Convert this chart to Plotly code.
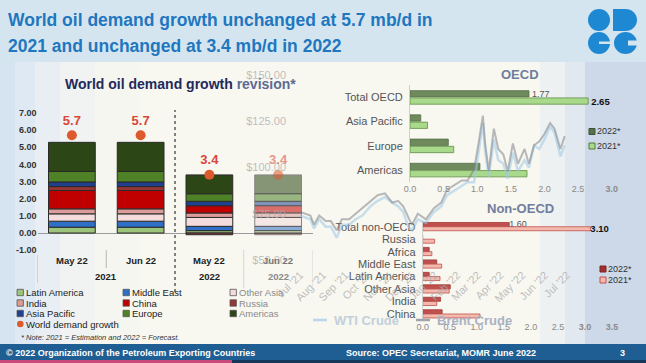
import numpy as np
import plotly.graph_objects as go

W, H = 646, 363
def fx(x): return x / W
def fy(y): return 1 - y / H

FONT = "Liberation Sans, Arial, sans-serif"

# ---------------- data ----------------
periods = ["May 22", "Jun 22", "May 22", "Jun 22"]
years = ["2021", "2021", "2022", "2022"]
regions = ["Latin America", "Middle East", "Other Asia", "India", "China",
           "Russia", "Asia Pacific", "Europe", "Americas"]
latin_america = [0.34, 0.34, 0.14, 0.14]
middle_east = [0.35, 0.35, 0.25, 0.25]
other_asia = [0.43, 0.43, 0.52, 0.52]
india = [0.29, 0.29, 0.26, 0.26]
china = [1.07, 1.07, 0.42, 0.42]
russia = [0.23, 0.23, -0.10, -0.10]
asia_pacific = [0.27, 0.27, 0.26, 0.26]
europe = [0.61, 0.61, 0.44, 0.44]
americas = [1.70, 1.70, 1.10, 1.10]
world_growth = [5.7, 5.7, 3.4, 3.4]

oecd_regions = ["Total OECD", "Asia Pacific", "Europe", "Americas"]
oecd_2022 = [1.77, 0.16, 0.57, 1.04]
oecd_2021 = [2.65, 0.26, 0.65, 1.74]

non_oecd_regions = ["Total non-OECD", "Russia", "Africa", "Middle East",
                    "Latin America", "Other Asia", "India", "China"]
non_oecd_2022 = [1.60, -0.10, 0.12, 0.26, 0.12, 0.51, 0.33, 0.36]
non_oecd_2021 = [3.10, 0.22, 0.17, 0.35, 0.32, 0.49, 0.26, 1.06]

price_dates = ["2021-07-01", "2021-07-08", "2021-07-15", "2021-07-20", "2021-07-27",
               "2021-08-05", "2021-08-12", "2021-08-20", "2021-08-27", "2021-09-06",
               "2021-09-15", "2021-09-24", "2021-10-05", "2021-10-15", "2021-10-25",
               "2021-11-04", "2021-11-12", "2021-11-19", "2021-11-26", "2021-12-01",
               "2021-12-09", "2021-12-20", "2021-12-31", "2022-01-10", "2022-01-18",
               "2022-01-26", "2022-02-07", "2022-02-15", "2022-02-24", "2022-03-02",
               "2022-03-08", "2022-03-11", "2022-03-16", "2022-03-23", "2022-03-29",
               "2022-04-05", "2022-04-11", "2022-04-18", "2022-04-25", "2022-05-04",
               "2022-05-10", "2022-05-17", "2022-05-24", "2022-05-31", "2022-06-08",
               "2022-06-14", "2022-06-22", "2022-06-28"]
brent = [76, 75, 74, 69, 74, 71, 71, 66, 72, 72, 75, 78, 82, 85, 86, 81, 82, 79, 73, 69,
         75, 72, 78, 81, 88, 90, 93, 93, 99, 113, 128, 113, 98, 121, 110, 107, 98, 113,
         102, 110, 102, 112, 114, 118, 124, 121, 110, 117]
wti = [74, 73, 72, 67, 72, 68, 68, 62, 69, 69, 72, 74, 79, 82, 84, 81, 79, 76, 68, 66,
       72, 70, 76, 79, 85, 87, 90, 92, 92, 108, 124, 109, 95, 115, 104, 102, 94, 108,
       98, 104, 100, 112, 110, 115, 122, 119, 106, 112]
price_ticks = ["2021-07-01", "2021-08-01", "2021-09-01", "2021-10-01", "2021-11-01",
               "2021-12-01", "2022-01-01", "2022-02-01", "2022-03-01", "2022-04-01",
               "2022-05-01", "2022-06-01", "2022-07-01"]
price_tick_labels = ["Jul '21", "Aug '21", "Sep '21", "Oct '21", "Nov '21", "Dec '21",
                     "Jan '22", "Feb '22", "Mar '22", "Apr '22", "May '22", "Jun '22", "Jul '22"]
price_levels = [50, 75, 100, 125, 150]

# ---------------- styles ----------------
region_colors = ["#9cc47a", "#2f6fc6", "#f3dcdb", "#dc9c9a", "#c00000",
                 "#943634", "#1f3f8f", "#4f8226", "#2c4616"]
bar_opac = [1, 1, 1, 0.55]

fig = go.Figure()

cats = [f"{p} {y}" for p, y in zip(periods, years)]
series = [latin_america, middle_east, other_asia, india, china, russia,
          asia_pacific, europe, americas]
pos = np.zeros(len(cats))
neg = np.zeros(len(cats))
for name, vals, col in zip(regions, series, region_colors):
    v = np.array(vals, dtype=float)
    base = np.where(v >= 0, pos, neg)
    fig.add_trace(go.Bar(x=cats, y=v, base=base, name=name, width=0.68, offset=-0.34,
                         marker=dict(color=col, opacity=bar_opac,
                                     line=dict(color="#2a2a2a", width=1)),
                         xaxis="x", yaxis="y", hoverinfo="skip"))
    pos += np.where(v >= 0, v, 0)
    neg += np.where(v < 0, v, 0)

fig.add_trace(go.Scatter(x=cats, y=world_growth, mode="markers+text",
                         text=[f"{v:.1f}" for v in world_growth],
                         textposition="top center",
                         textfont=dict(family=FONT, size=13, weight="bold",
                                       color=["#d9463a", "#d9463a", "#d9463a", "#e49888"]),
                         marker=dict(size=10, color="#dd5a2e", opacity=bar_opac),
                         xaxis="x", yaxis="y", hoverinfo="skip"))

# OECD
fig.add_trace(go.Bar(y=oecd_regions, x=oecd_2022, orientation="h", width=0.26, offset=-0.28,
                     marker=dict(color="#6f8a5c", line=dict(color="#55704a", width=0.8)),
                     text=[f"{oecd_2022[0]:.2f}"] + [""] * (len(oecd_2022) - 1),
                     textposition="outside", cliponaxis=False, constraintext="none",
                     textfont=dict(family=FONT, size=9, color="#555"),
                     xaxis="x2", yaxis="y2", hoverinfo="skip"))
fig.add_trace(go.Bar(y=oecd_regions, x=oecd_2021, orientation="h", width=0.26, offset=0.02,
                     marker=dict(color="#a9d98a", line=dict(color="#5f8f45", width=0.8)),
                     text=[f"{oecd_2021[0]:.2f}"] + [""] * (len(oecd_2021) - 1),
                     textposition="outside", cliponaxis=False, constraintext="none",
                     textfont=dict(family=FONT, size=9.5, weight="bold", color="#111"),
                     xaxis="x2", yaxis="y2", hoverinfo="skip"))

# Non-OECD
fig.add_trace(go.Bar(y=non_oecd_regions, x=non_oecd_2022, orientation="h", width=0.32, offset=-0.34,
                     marker=dict(color="#c0504d", line=dict(color="#a03a38", width=0.8)),
                     text=[f"{non_oecd_2022[0]:.2f}"] + [""] * (len(non_oecd_2022) - 1),
                     textposition="outside", cliponaxis=False, constraintext="none",
                     textfont=dict(family=FONT, size=9, color="#555"),
                     xaxis="x3", yaxis="y3", hoverinfo="skip"))
fig.add_trace(go.Bar(y=non_oecd_regions, x=non_oecd_2021, orientation="h", width=0.32, offset=0.0,
                     marker=dict(color="#f4b9ad", line=dict(color="#c0504d", width=0.8)),
                     text=[f"{non_oecd_2021[0]:.2f}"] + [""] * (len(non_oecd_2021) - 1),
                     textposition="outside", cliponaxis=False, constraintext="none",
                     textfont=dict(family=FONT, size=9.5, weight="bold", color="#111"),
                     xaxis="x3", yaxis="y3", hoverinfo="skip"))

# Ghost price chart
fig.add_trace(go.Scatter(x=price_dates, y=wti, mode="lines", name="WTI Crude",
                         line=dict(color="#9cc8e8", width=2.5), opacity=0.55,
                         xaxis="x4", yaxis="y4", hoverinfo="skip"))
fig.add_trace(go.Scatter(x=price_dates, y=brent, mode="lines", name="Brent Crude",
                         line=dict(color="#7f8388", width=2), opacity=0.55,
                         xaxis="x4", yaxis="y4", hoverinfo="skip"))

# ---------------- shapes (background / decoration) ----------------
shapes = []
def rect(x0, y0, x1, y1, color, layer="below", line=None):
    shapes.append(dict(type="rect", xref="paper", yref="paper",
                       x0=fx(x0), x1=fx(x1), y0=fy(y1), y1=fy(y0),
                       fillcolor=color, line=dict(width=0) if line is None else line,
                       layer=layer))

strips = [(0, 15, "#d6e4f1"), (15, 35, "#dfe9f3"), (35, 60, "#e8eef3"), (60, 95, "#f0f3f1"),
          (95, 140, "#f6f6f0"), (140, 540, "#f8f7f0"), (540, 565, "#eef1f2"),
          (565, 585, "#e1e8f0"), (585, 646, "#cdd9e8")]
for x0, x1, c in strips:
    rect(x0, 62, x1, 345, c)
rect(0, 0, 646, 62, "#d5e5ef")
rect(0, 344, 646, 363, "#1f5e93")
rect(0, 360, 232, 363, "#c94a7a")
rect(232, 360, 646, 363, "#16365a")

logo = "#1e88d2"
def circ(x0, y0, x1, y1, c):
    shapes.append(dict(type="circle", xref="paper", yref="paper",
                       x0=fx(x0), x1=fx(x1), y0=fy(y1), y1=fy(y0),
                       fillcolor=c, line=dict(width=0), layer="above"))
circ(588, 9, 610, 31, logo)
circ(614, 9, 637, 31, logo)
rect(613, 9, 625, 31, logo, layer="above")
circ(588, 32, 610, 54, logo)
rect(599, 41.5, 611, 44, "#d5e5ef", layer="above")
circ(614, 32, 637, 54, logo)
rect(628, 40.5, 638, 45.5, "#d5e5ef", layer="above")

def xline(xv, y0, y1, color, dash="solid", width=1):
    shapes.append(dict(type="line", xref="x", yref="paper", x0=xv, x1=xv,
                       y0=fy(y1), y1=fy(y0), line=dict(color=color, width=width, dash=dash),
                       layer="above"))
xline(-0.5, 255, 283, "#b5b5b5")
xline(0.5, 250, 268, "#b5b5b5")
xline(1.5, 110, 292, "#333333", dash="dot", width=1.2)
xline(2.5, 250, 288, "#d5d5d5")
xline(3.5, 250, 290, "#d5d5d5")

# ---------------- annotations ----------------
ann = []
def text(x, y, s, size=10, color="#222", bold=False, italic=False, xanchor="left",
         yanchor="middle", xref="paper", yref="paper"):
    t = f"<i>{s}</i>" if italic else s
    ann.append(dict(x=x if xref != "paper" else fx(x), y=y if yref != "paper" else fy(y),
                    xref=xref, yref=yref, text=t, showarrow=False,
                    xanchor=xanchor, yanchor=yanchor, borderpad=0,
                    font=dict(family=FONT, size=size, color=color,
                              weight="bold" if bold else "normal")))

text(7, 20, "World oil demand growth unchanged at 5.7 mb/d in", 17.5, "#1f77bf", True)
text(7, 46, "2021 and unchanged at 3.4 mb/d in 2022", 17.5, "#1f77bf", True)

text(64, 84, "World oil demand growth <span style='color:#5d6b93'>revision*</span>",
     14, "#1f2a5a", True)

for i, p in enumerate(periods):
    text(i, 260, p, 9.5, "#222" if i < 3 else "#777", True, xanchor="center", xref="x")
text(0.5, 276, years[0], 9.5, "#222", True, xanchor="center", xref="x")
text(2, 276, years[2], 9.5, "#222", True, xanchor="center", xref="x")
text(3, 276, years[3], 9.5, "#8a8a8a", True, xanchor="center", xref="x")

leg_cols = [17, 123, 230]
leg_rows = [292.5, 303, 313.5, 324]
for k, (name, col) in enumerate(zip(regions, region_colors)):
    r, c = divmod(k, 3)
    x0, yc = leg_cols[c], leg_rows[r]
    rect(x0, yc - 3.2, x0 + 6.4, yc + 3.2, col, layer="above",
         line=dict(color="#555", width=0.8))
    text(x0 + 7.5, yc, name, 9.5, "#222" if c < 2 else "#8a8a8a")
circ(leg_cols[0], leg_rows[3] - 3.3, leg_cols[0] + 6.6, leg_rows[3] + 3.3, "#dd5a2e")
text(leg_cols[0] + 7.5, leg_rows[3], "World demand growth", 9.5, "#222")
text(20, 337, "* Note: 2021 = Estimation and 2022 = Forecast.", 7.5, "#333", italic=True)

text(520, 75, "OECD", 13, "#6f7d9c", True, xanchor="center")
text(520, 208, "Non-OECD", 13, "#6f7d9c", True, xanchor="center")

def legsq(x, y, fill, border, label):
    rect(x, y - 3, x + 6, y + 3, fill, layer="above", line=dict(color=border, width=1))
    text(x + 6.5, y, label, 9, "#333")
legsq(589, 131.5, "#55704a", "#3d5234", "2022*")
legsq(589, 146, "#a9d98a", "#4f7a3a", "2021*")
legsq(600, 269, "#a0302e", "#7a2220", "2022*")
legsq(600, 280, "#f4b9ad", "#c0504d", "2021*")

shapes.append(dict(type="line", xref="paper", yref="paper", x0=fx(313), x1=fx(327),
                   y0=fy(320), y1=fy(320), line=dict(color="#b7d6ee", width=2.5), layer="above"))
text(333, 320, "WTI Crude", 13, "#c2d0dc", True)
shapes.append(dict(type="line", xref="paper", yref="paper", x0=fx(416), x1=fx(430),
                   y0=fy(320), y1=fy(320), line=dict(color="#a0a4aa", width=2.5), layer="above"))
text(436, 320, "Brent Crude", 13, "#aab2c2", True)

text(5, 353, "© 2022 Organization of the Petroleum Exporting Countries", 9, "white", True)
text(441, 353, "Source: OPEC Secretariat, MOMR June 2022", 9, "white", True, xanchor="center")
text(622, 353, "3", 9, "white", True, xanchor="center")

# ---------------- layout ----------------
ygrid = [-1, 0, 1, 2, 3, 4, 5, 6, 7]
ghost_font = dict(family=FONT, size=11, color="rgba(170,170,170,0.75)")
fig.update_layout(
    width=W, height=H, margin=dict(l=0, r=0, t=0, b=0, autoexpand=False),
    paper_bgcolor="#f8f7f0", plot_bgcolor="rgba(0,0,0,0)",
    showlegend=False, barmode="overlay", hovermode=False,
    font=dict(family=FONT),
    shapes=shapes, annotations=ann,
    xaxis=dict(domain=[fx(37.5), fx(312.5)], type="category", range=[-0.5, 3.5],
               showticklabels=False, showgrid=False, zeroline=False, showline=False,
               automargin=False, anchor="y"),
    yaxis=dict(domain=[fy(253.6), fy(109.6)], range=[-1.2, 7.2], tickvals=ygrid,
               ticktext=[f"{v:.2f}" for v in ygrid], ticks="", showgrid=False,
               zeroline=True, zerolinecolor="#9a9a9a", zerolinewidth=1,
               tickfont=dict(family=FONT, size=9, color="#333", weight="bold"),
               showline=False, automargin=False, anchor="x"),
    xaxis2=dict(domain=[fx(410), fx(611.7)], range=[0, 3], anchor="y2",
                tickvals=[0, 0.5, 1, 1.5, 2, 2.5, 3],
                ticktext=["0.0", "0.5", "1.0", "1.5", "2.0", "2.5", "<b>3.0</b>"],
                tickfont=dict(family=FONT, size=9, color="#8a8a8a"),
                showgrid=False, zeroline=False, showline=False, ticks="", automargin=False),
    yaxis2=dict(domain=[fy(182.2), fy(85.3)], type="category", autorange="reversed",
                tickvals=oecd_regions, anchor="x2", ticks="", showgrid=False, showline=True,
                linecolor="#cfcfcf", automargin=False,
                tickfont=dict(family=FONT, size=11, color="#555"), ticklabelstandoff=4),
    xaxis3=dict(domain=[fx(422.7), fx(612)], range=[0, 3.5], anchor="y3",
                tickvals=[0, 0.5, 1, 1.5, 2, 2.5, 3, 3.5],
                ticktext=["0.0", "0.5", "1.0", "1.5", "2.0", "2.5", "<b>3.0</b>", "<b>3.5</b>"],
                tickfont=dict(family=FONT, size=9, color="#8a8a8a"),
                showgrid=False, zeroline=False, showline=False, ticks="", automargin=False),
    yaxis3=dict(domain=[fy(320.2), fy(220.5)], type="category", autorange="reversed",
                tickvals=non_oecd_regions, anchor="x3", ticks="", showgrid=False,
                showline=True, linecolor="#cfcfcf", automargin=False,
                tickfont=dict(family=FONT, size=11, color="#555"), ticklabelstandoff=4),
    xaxis4=dict(domain=[fx(287), fx(575)], type="date", range=["2021-06-13", "2022-07-12"],
                anchor="y4", tickvals=price_ticks, ticktext=price_tick_labels, tickangle=-45,
                tickfont=ghost_font, automargin=False,
                showgrid=False, zeroline=False, showline=False, ticks=""),
    yaxis4=dict(domain=[fy(265.5), fy(65.8)], range=[47, 155], anchor="x4",
                tickvals=price_levels, ticktext=[f"&#36;{v:.2f}" for v in price_levels],
                tickfont=ghost_font, automargin=False,
                showgrid=False, zeroline=False, showline=False, ticks=""),
)

fig.write_html("out.html", config={"displayModeBar": False, "staticPlot": True},
               post_script="document.body.style.margin='0';document.body.style.overflow='hidden';")
